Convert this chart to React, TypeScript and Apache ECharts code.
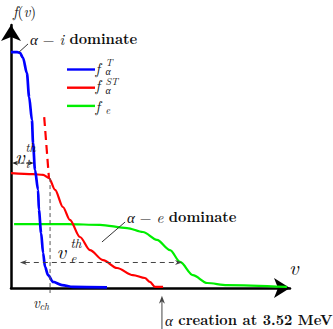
import React, { useEffect, useRef } from "react";
import * as echarts from "echarts";

// ---- data (x: velocity in arbitrary units 0..100, y: f(v) in arbitrary units 0..100) ----
const fAlphaT: number[][] = [
  [0, 89.7], [2.2, 89.7], [3.2, 89.4], [4.3, 87.5], [5.7, 81.7], [6.5, 72.6],
  [7.5, 63.9], [7.9, 55.1], [8.6, 44.9], [9.7, 37.3], [10.0, 29.7], [10.8, 20.9],
  [11.5, 13.3], [12.2, 8.0], [13.3, 4.9], [15.1, 2.3], [18.3, 1.1], [22.2, 0.4], [34.4, 0.2],
];
const fAlphaST: number[][] = [
  [0, 43.7], [7.9, 43.3], [11.5, 43.0], [13.6, 41.8], [15.8, 37.3], [18.6, 30.8],
  [21.1, 25.9], [24.7, 19.4], [28.3, 14.4], [33.0, 10.6], [38.0, 7.6], [43.7, 4.9],
  [48.0, 3.8], [49.8, 2.3], [51.6, 0.4], [54.5, 0.4],
];
const fAlphaSTCut: number[][] = [[11.9, 65.0], [13.6, 41.8]];
const fE: number[][] = [
  [1.1, 24.3], [20.1, 24.3], [31.9, 24.0], [41.6, 22.8], [47.3, 21.3], [52.3, 18.3],
  [57.0, 14.4], [60.6, 9.9], [65.2, 4.9], [70.3, 1.9], [77.4, 1.1], [98.9, 0.4],
];

// annotation segments [x1, y1, x2, y2] in data units
const vChLine = [14.0, 41.8, 14.0, -1.9];
const vEThArrow = [3.2, 9.7, 61.3, 9.7];
const vIThArrow = [0.4, 47.5, 8.2, 47.5];
const creationArrow = [54.1, -15.6, 54.1, -2.9];
const alphaILeader = [2.9, 89.7, 6.1, 92.8];
const alphaELeader = [32.6, 17.5, 40.9, 25.1];

const seriesNames = ["f_alpha^T", "f_alpha^ST", "f_e"];
const seriesColors = ["#0000ff", "#ff0000", "#00ee00"];

const annotationSegments = [vChLine, vEThArrow, vIThArrow, creationArrow, alphaILeader, alphaELeader];
const annotationLook = [
  { color: "#555", width: 1, dash: [4, 3], start: false, end: false, L: 7, W: 2.6 },
  { color: "#444", width: 1, dash: [5, 4], start: true, end: true, L: 7, W: 2.6 },
  { color: "#222", width: 1, dash: [3, 2], start: true, end: true, L: 6, W: 2.4 },
  { color: "#444", width: 1, dash: null, start: false, end: true, L: 8, W: 3 },
  { color: "#333", width: 1, dash: null, start: false, end: false, L: 7, W: 2.6 },
  { color: "#333", width: 1, dash: null, start: false, end: false, L: 7, W: 2.6 },
];

const SERIF = "Latin Modern Roman, Liberation Serif";

function st(size: number, italic: boolean, bold = false, lh = 0.95) {
  return {
    fontSize: size,
    lineHeight: Math.round(size * lh * 10) / 10,
    fontStyle: italic ? "italic" : "normal",
    fontWeight: bold ? "bold" : "normal",
    fontFamily: SERIF,
    fill: "#111",
  };
}

function txt(x: number, y: number, text: string, base: any, rich?: any) {
  const style: any = { text, ...base, align: "left", verticalAlign: "middle" };
  if (rich) style.rich = rich;
  return { type: "text", x, y, silent: true, z: 100, style };
}

const mathRich = {
  i: st(15, true),
  r: st(15, false),
  b: st(14.5, false, true),
};

export default function App() {
  const ref = useRef<HTMLDivElement>(null);
  useEffect(() => {
    if (!ref.current) return;
    const chart = echarts.init(ref.current, undefined, { renderer: "svg" });
    const axisCommon = {
      type: "value",
      min: 0,
      max: 100,
      axisLine: {
        show: true,
        onZero: false,
        symbol: ["none", "arrow"],
        symbolSize: [15, 16],
        lineStyle: { color: "#000", width: 2.5 },
      },
      axisTick: { show: false },
      axisLabel: { show: false },
      splitLine: { show: false },
    };
    const lineCommon = {
      type: "line",
      showSymbol: false,
      symbol: "none",
      smooth: 0.3,
      smoothMonotone: "x",
      silent: true,
    };
    chart.setOption({
      animation: false,
      grid: { left: 11, top: 25, right: 43, bottom: 41, containLabel: false },
      xAxis: axisCommon,
      yAxis: axisCommon,
      legend: {
        data: seriesNames.map((n) => ({ name: n, icon: "path://M0,0H28V2.4H0Z" })),
        orient: "vertical",
        left: 67,
        top: 62.5,
        padding: 0,
        itemWidth: 28,
        itemHeight: 14,
        itemGap: 10,
        selectedMode: false,
        formatter: () => "",
        textStyle: { fontSize: 10 },
      },
      series: [
        { ...lineCommon, name: seriesNames[2], data: fE, lineStyle: { color: seriesColors[2], width: 2.2 }, itemStyle: { color: seriesColors[2] }, z: 3 },
        { ...lineCommon, name: seriesNames[1], data: fAlphaST, lineStyle: { color: seriesColors[1], width: 2.2 }, itemStyle: { color: seriesColors[1] }, z: 4 },
        { ...lineCommon, name: "cut", data: fAlphaSTCut, smooth: false, lineStyle: { color: seriesColors[1], width: 2.2, type: [9, 5] }, z: 4 },
        { ...lineCommon, name: seriesNames[0], data: fAlphaT, lineStyle: { color: seriesColors[0], width: 2.7 }, itemStyle: { color: seriesColors[0] }, z: 5 },
        {
          type: "custom",
          name: "annotations",
          silent: true,
          z: 6,
          data: annotationSegments.map((s, i) => [...s, i]),
          renderItem: (params: any, api: any) => {
            const look = annotationLook[api.value(4)];
            const a = api.coord([api.value(0), api.value(1)]);
            const b = api.coord([api.value(2), api.value(3)]);
            const dx = b[0] - a[0];
            const dy = b[1] - a[1];
            const len = Math.hypot(dx, dy) || 1;
            const ux = dx / len;
            const uy = dy / len;
            const L = look.L;
            const W = look.W;
            const head = (t: number[], px: number, py: number) => ({
              type: "polygon",
              shape: {
                points: [
                  [t[0], t[1]],
                  [t[0] - L * px - W * py, t[1] - L * py + W * px],
                  [t[0] - 0.7 * L * px, t[1] - 0.7 * L * py],
                  [t[0] - L * px + W * py, t[1] - L * py - W * px],
                ],
              },
              style: { fill: look.color },
            });
            const children: any[] = [];
            let s = [a[0], a[1]];
            let e = [b[0], b[1]];
            if (look.end) {
              children.push(head(b, ux, uy));
              e = [b[0] - 0.7 * L * ux, b[1] - 0.7 * L * uy];
            }
            if (look.start) {
              children.push(head(a, -ux, -uy));
              s = [a[0] + 0.7 * L * ux, a[1] + 0.7 * L * uy];
            }
            children.unshift({
              type: "line",
              shape: { x1: s[0], y1: s[1], x2: e[0], y2: e[1] },
              style: { stroke: look.color, lineWidth: look.width, lineDash: look.dash || undefined, fill: null },
            });
            return { type: "group", children };
          },
        },
      ],
      graphic: [
        txt(13, 10, "{i|f}{r|(}{i|v}{r|)}", st(15, true), mathRich),
        txt(289, 266, "v", st(21, true)),
        txt(30, 38, "{i|α}{r| − }{i|i} {b|dominate}", st(15, true), mathRich),
        txt(127, 216, "{i|α}{r| − }{i|e} {b|dominate}", st(15, true), mathRich),
        txt(165, 319, "{i|α} {b|creation at 3.52 MeV}", st(15, true), mathRich),
        // legend labels (stacked super/subscripts as one two-line text each)
        txt(95.5, 67, "f", st(15, true, false, 0.85)),
        txt(105.5, 66, "T\nα", st(10, true, false, 0.9)),
        txt(95.5, 84.5, "f", st(15, true, false, 0.85)),
        txt(105.5, 85.2, "ST\nα", st(10, true, false, 0.9)),
        txt(95.5, 105, "f", st(15, true, false, 0.85)),
        txt(105.5, 110, "e", st(10, true, false, 0.85)),
        // v_i^th
        txt(15, 155, "v", st(21, true)),
        txt(25.5, 154.2, "th\ni", st(12, true, false, 1.3)),
        // v_e^th
        txt(56.5, 249.5, "v", st(21, true)),
        txt(70.5, 250, "th\ne", st(13, true, false, 1.15)),
        // v_ch
        txt(33, 301.5, "v", st(15, true)),
        txt(39.5, 306, "ch", st(10, true)),
      ],
    });
    return () => chart.dispose();
  }, []);
  return <div ref={ref} style={{ position: "fixed", left: 0, top: 0, width: 333, height: 329, background: "#fff" }} />;
}
